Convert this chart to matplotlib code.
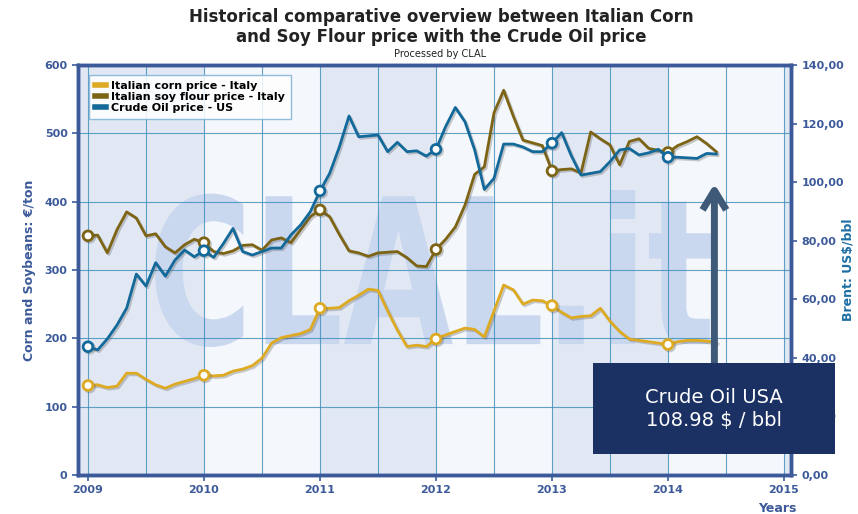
import numpy as np
import matplotlib
matplotlib.use("Agg")
import matplotlib.pyplot as plt
import matplotlib.patheffects as pe
from matplotlib.ticker import MultipleLocator, FuncFormatter
from matplotlib.textpath import TextPath
from matplotlib.font_manager import FontProperties
from matplotlib.patches import PathPatch, Rectangle
from matplotlib.lines import Line2D
from matplotlib.transforms import Affine2D

# monthly values, Jan 2009 .. Jun 2014
corn = [131, 132, 128, 130, 149, 149, 140, 132, 127, 133, 137, 141,
        146, 145, 146, 152, 155, 160, 171, 193, 201, 204, 207, 213,
        244, 244, 245, 255, 263, 272, 270, 240, 212, 188, 190, 188,
        199, 205, 210, 215, 213, 202, 240, 278, 271, 250, 256, 255,
        248, 238, 230, 232, 233, 244, 225, 210, 199, 197, 195, 193,
        191, 195, 197, 197, 196, 194]
soy = [350, 351, 325, 359, 385, 376, 350, 353, 334, 325, 337, 345,
       340, 327, 324, 328, 336, 337, 329, 344, 347, 340, 359, 378,
       388, 378, 352, 328, 325, 320, 325, 326, 327, 318, 306, 305,
       330, 345, 363, 395, 440, 451, 530, 563, 525, 490, 486, 482,
       445, 447, 448, 442, 502, 492, 483, 454, 488, 492, 478, 475,
       472, 482, 488, 495, 485, 473]
oil = [43.8, 42.7, 46.5, 51.2, 57.0, 68.6, 64.5, 72.5, 67.9, 73.4, 76.8, 74.5,
       76.6, 74.3, 79.0, 84.2, 76.3, 75.1, 76.3, 77.5, 77.5, 82.0, 85.4, 89.9,
       97.0, 103.0, 112.0, 122.6, 115.5, 115.8, 116.1, 110.4, 113.6, 110.4, 110.7, 108.9,
       111.2, 119.0, 125.5, 120.6, 111.0, 97.5, 101.3, 113.0, 113.0, 112.0, 110.4, 110.4,
       113.3, 116.9, 109.0, 102.4, 103.0, 103.6, 107.0, 111.0, 111.5, 109.3, 110.0, 111.2,
       108.5, 108.5, 108.3, 108.1, 109.8, 109.6]
years = [2009, 2010, 2011, 2012, 2013, 2014, 2015]
labels = ["Italian corn price - Italy", "Italian soy flour price - Italy", "Crude Oil price - US"]
last_oil = "108.98"

x = 2009 + np.arange(len(corn)) / 12.0
jan = list(range(0, len(corn), 12))

C_CORN, C_SOY, C_OIL = "#DDAA22", "#7D6415", "#12699A"
AXC = "#3C5A9A"
DARK, LIGHT = "#E1E8F4", "#F4F7FB"

fig = plt.figure(figsize=(8.58, 5.14), dpi=100)
ax = fig.add_axes([78 / 858, 1 - 475 / 514, 713 / 858, 410 / 514])
ax.set_facecolor(DARK)
for y in years:
    if y % 2 == 0:
        ax.axvspan(y, y + 1, color=LIGHT, zorder=0.1, lw=0)

# watermark
tp = TextPath((0, 0), "CLAL.it", size=1, prop=FontProperties(family="DejaVu Sans", weight="bold"))
ext = tp.get_extents()
x0f, x1f = (155 - 78) / 713, (712 - 78) / 713
y0f, y1f = (475 - 347) / 410, (475 - 190) / 410
tr = (Affine2D().translate(-ext.x0, -ext.y0)
      .scale((x1f - x0f) / ext.width, (y1f - y0f) / ext.height)
      .translate(x0f, y0f) + ax.transAxes)
ax.add_patch(PathPatch(tp, transform=tr, fc="#C9D7EF", ec="none", zorder=0.2))

ax.set_xlim(2009 - 10 / 116, 2015 + 7 / 116)
ax.set_ylim(0, 600)
ax.xaxis.set_major_locator(MultipleLocator(1))
ax.xaxis.set_minor_locator(MultipleLocator(0.5))
ax.yaxis.set_major_locator(MultipleLocator(100))
ax.set_axisbelow(True)
ax.grid(True, which="both", axis="x", color="#3C8CBC", lw=0.8, alpha=0.8)
ax.grid(True, which="major", axis="y", color="#3C8CBC", lw=0.8, alpha=0.8)

shadow = [pe.SimpleLineShadow(offset=(1.2, -1.2), shadow_color="#555555", alpha=0.3), pe.Normal()]
ax.plot(x, corn, color=C_CORN, lw=2, marker="o", markevery=jan, ms=7, mfc="white",
        mec=C_CORN, mew=2, path_effects=shadow, zorder=3)
ax.plot(x, soy, color=C_SOY, lw=2, marker="o", markevery=jan, ms=7, mfc="white",
        mec=C_SOY, mew=2, path_effects=shadow, zorder=3)

ax2 = ax.twinx()
ax2.set_ylim(0, 140)
ax2.yaxis.set_major_locator(MultipleLocator(20))
ax2.yaxis.set_major_formatter(FuncFormatter(lambda v, p: f"{v:.2f}".replace(".", ",")))
ax2.plot(x, oil, color=C_OIL, lw=2, marker="o", markevery=jan, ms=7, mfc="white",
         mec=C_OIL, mew=2, path_effects=shadow, zorder=4)

for a in (ax, ax2):
    for s in a.spines.values():
        s.set_color(AXC)
        s.set_linewidth(2.5)
    a.tick_params(colors=AXC, labelsize=8, length=4, width=1.2)
    for t in a.get_xticklabels() + a.get_yticklabels():
        t.set_fontweight("bold")
ax.tick_params(axis="x", which="minor", length=0)
ax.set_xticks(years)
ax.set_xticklabels([str(y) for y in years], fontweight="bold", color=AXC, fontsize=8)

ax.set_ylabel("Corn and Soybeans: €/ton", color=AXC, fontweight="bold", fontsize=9, labelpad=6)
fig.text(848 / 858, 1 - 270 / 514, "Brent: US$/bbl", color="#1C6EA4", fontweight="bold",
         fontsize=9, rotation=90, ha="center", va="center")
fig.text(777 / 858, 1 - 509 / 514, "Years", color=AXC, fontweight="bold", fontsize=9,
         ha="center", va="center")

handles = [Line2D([0], [0], color=c, lw=4) for c in (C_CORN, C_SOY, C_OIL)]
leg = ax2.legend(handles, labels, loc="upper left", bbox_to_anchor=(0.008, 0.988),
                 handlelength=1.0, handletextpad=0.5, labelspacing=0.1, borderpad=0.5,
                 fancybox=False, prop={"weight": "bold", "size": 8})
leg.get_frame().set_edgecolor("#7FB3D5")
leg.get_frame().set_facecolor("white")
leg.get_frame().set_alpha(0.85)

# annotation arrow and box
ax2.annotate("", xy=(2014.4, 100.4), xytext=(2014.4, 32),
             arrowprops=dict(arrowstyle="->,head_length=1.4,head_width=0.85",
                             color="#3F5A78", lw=5, capstyle="butt"), zorder=5)
fig.patches.append(Rectangle((593 / 858, 1 - 454 / 514), 242 / 858, 91 / 514,
                             transform=fig.transFigure, fc="#1B3163", ec="none", zorder=6))
fig.text(714 / 858, 1 - 409 / 514, f"Crude Oil USA\n{last_oil} $ / bbl", color="white",
         fontsize=14, ha="center", va="center", linespacing=1.3, zorder=7)

fig.text(441 / 858, 1 - 27 / 514,
         "Historical comparative overview between Italian Corn\nand Soy Flour price with the Crude Oil price",
         ha="center", va="center", fontsize=12, fontweight="bold", color="#222222", linespacing=1.1)
fig.text(440 / 858, 1 - 54 / 514, "Processed by CLAL", ha="center", va="center", fontsize=7,
         color="#222222")

fig.savefig("out.png", dpi=100, facecolor="white")
